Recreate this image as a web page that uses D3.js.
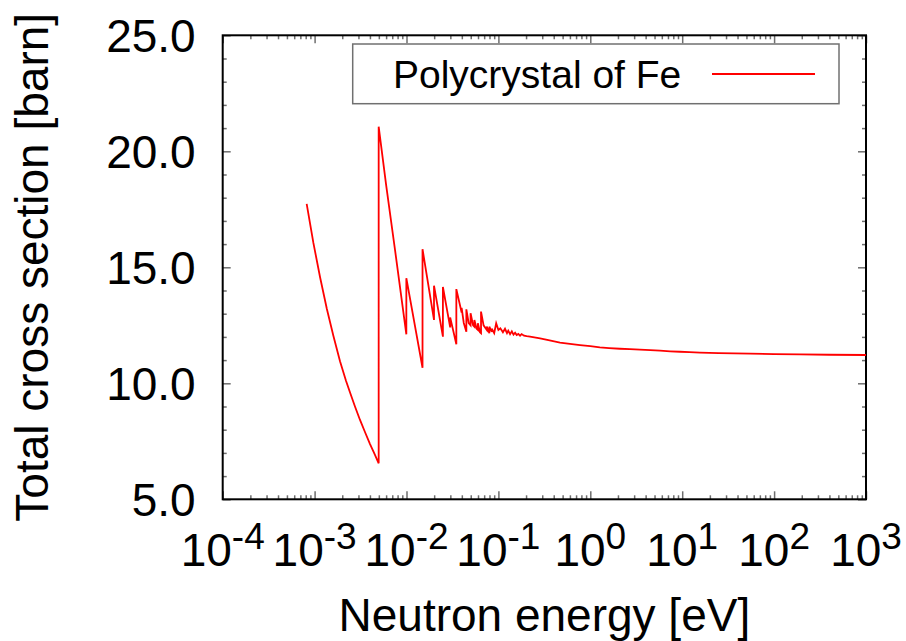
<!DOCTYPE html>
<html>
<head>
<meta charset="utf-8">
<script src="https://cdn.jsdelivr.net/npm/d3@7"></script>
<style>
  body { margin: 0; background: #fff; }
  text { font-family: "Liberation Sans", Arial, sans-serif; fill: #000; }
</style>
</head>
<body>
<div id="container"></div>
<script>
// data: neutron energy [eV] and total cross section [barn]
var energy = [
  8.2e-4, 9.7e-4, 1.15e-3, 1.36e-3, 1.6e-3, 1.89e-3, 2.2e-3, 2.43e-3, 2.75e-3, 3.12e-3,
  3.55e-3, 4.01e-3, 4.5e-3, 4.98e-3,
  4.98e-3, 6.0e-3, 7.5e-3, 9.96e-3,
  9.96e-3, 1.494e-2,
  1.494e-2, 1.992e-2,
  1.992e-2, 2.49e-2,
  2.49e-2, 2.988e-2, 2.988e-2, 3.486e-2,
  3.486e-2, 3.98e-2, 3.98e-2, 4.2e-2, 4.48e-2,
  4.48e-2, 4.75e-2, 4.98e-2, 4.98e-2, 5.3e-2, 5.48e-2, 5.48e-2, 5.8e-2, 5.98e-2, 5.98e-2,
  6.3e-2, 6.47e-2, 6.47e-2, 6.9e-2, 7.47e-2, 7.47e-2, 7.97e-2, 7.97e-2, 8.47e-2, 8.47e-2,
  9.0e-2, 9.46e-2, 0.100, 0.105, 0.112, 0.118, 0.124, 0.128, 0.134, 0.140,
  0.146, 0.152, 0.158, 0.165, 0.172, 0.179, 0.190, 0.203, 0.221,
  0.284, 0.35, 0.468, 0.6, 0.773, 1.0, 1.27, 1.6, 2.10, 2.7, 3.47, 4.5, 5.73, 7.4, 9.46,
  12, 15.6, 25, 54.7, 100, 191, 400, 1000
];
var sigma = [
  17.73, 16.05, 14.55, 13.20, 12.05, 10.95, 10.10, 9.60, 9.00, 8.42,
  7.88, 7.38, 6.95, 6.55,
  21.06, 18.55, 15.75, 12.11,
  14.53, 10.67,
  15.78, 12.73,
  14.21, 12.01,
  14.15, 12.41, 12.84, 11.68,
  14.06, 13.05, 13.25, 12.6, 12.22,
  13.19, 12.59, 12.50, 13.02, 12.50, 12.44, 12.73, 12.35, 12.30, 12.59,
  12.20, 12.16, 13.09, 12.50, 12.30, 12.45, 12.16, 12.44, 12.22, 12.35,
  12.16, 12.59, 12.30, 12.37, 12.20, 12.35, 12.16, 12.27, 12.12, 12.24,
  12.10, 12.18, 12.08, 12.13, 12.05, 12.12, 12.05, 12.03, 12.01,
  11.94, 11.86, 11.75, 11.70, 11.65, 11.60, 11.55, 11.52, 11.49, 11.47, 11.45, 11.43, 11.41, 11.38, 11.36,
  11.34, 11.32, 11.30, 11.28, 11.26, 11.25, 11.23, 11.22
];

var xDecades = [-4, -3, -2, -1, 0, 1, 2, 3];
var yMajor = [5, 10, 15, 20, 25];
var legendLabel = "Polycrystal of Fe";

var width = 906, height = 641;
var plot = {left: 222.7, right: 866, top: 35.3, bottom: 499.3};

var svg = d3.select("#container").append("svg")
  .attr("width", width)
  .attr("height", height);

var x = d3.scaleLog().domain([1e-4, 1e3]).range([plot.left, plot.right]);
var y = d3.scaleLinear().domain([5, 25]).range([plot.bottom, plot.top]);

var xMajorVals = xDecades.map(function(p) { return Math.pow(10, p); });
var xMinorVals = [];
xDecades.slice(0, -1).forEach(function(p) {
  for (var k = 2; k <= 9; k++) xMinorVals.push(k * Math.pow(10, p));
});
var yMinorVals = d3.range(5, 26, 1).filter(function(v) { return v % 5 !== 0; });

function styleAxis(g) {
  g.select(".domain").remove();
  g.selectAll(".tick line").attr("stroke", "#6e6e6e").attr("stroke-width", 1.5);
}

// major + minor ticks on all four sides, pointing inward
svg.append("g").attr("transform", "translate(0," + plot.bottom + ")")
  .call(d3.axisBottom(x).tickValues(xMajorVals).tickSize(-8).tickFormat(""))
  .call(styleAxis);
svg.append("g").attr("transform", "translate(0," + plot.bottom + ")")
  .call(d3.axisBottom(x).tickValues(xMinorVals).tickSize(-4).tickFormat(""))
  .call(styleAxis);
svg.append("g").attr("transform", "translate(0," + plot.top + ")")
  .call(d3.axisTop(x).tickValues(xMajorVals).tickSize(-8).tickFormat(""))
  .call(styleAxis);
svg.append("g").attr("transform", "translate(0," + plot.top + ")")
  .call(d3.axisTop(x).tickValues(xMinorVals).tickSize(-4).tickFormat(""))
  .call(styleAxis);

svg.append("g").attr("transform", "translate(" + plot.left + ",0)")
  .call(d3.axisLeft(y).tickValues(yMajor).tickSize(-8).tickPadding(27).tickFormat(d3.format(".1f")))
  .call(styleAxis)
  .selectAll("text")
    .style("font-size", "46px")
    .attr("dy", "0.36em")
    .style("font-family", '"Liberation Sans", Arial, sans-serif');
svg.append("g").attr("transform", "translate(" + plot.left + ",0)")
  .call(d3.axisLeft(y).tickValues(yMinorVals).tickSize(-4).tickFormat(""))
  .call(styleAxis);
svg.append("g").attr("transform", "translate(" + plot.right + ",0)")
  .call(d3.axisRight(y).tickValues(yMajor).tickSize(-8).tickFormat(""))
  .call(styleAxis);
svg.append("g").attr("transform", "translate(" + plot.right + ",0)")
  .call(d3.axisRight(y).tickValues(yMinorVals).tickSize(-4).tickFormat(""))
  .call(styleAxis);

// x tick labels as 10^n with superscripts
var xl = svg.append("g").selectAll("text")
  .data(xDecades).enter()
  .append("text")
    .attr("x", function(p) { return x(Math.pow(10, p)); })
    .attr("y", 566)
    .attr("text-anchor", "middle")
    .style("font-size", "46px");
xl.append("tspan").text("10");
xl.append("tspan")
  .attr("dy", -17)
  .style("font-size", "37px")
  .text(function(p) { return p; });

// border
svg.append("rect")
  .attr("x", plot.left).attr("y", plot.top)
  .attr("width", plot.right - plot.left).attr("height", plot.bottom - plot.top)
  .attr("fill", "none").attr("stroke", "#000").attr("stroke-width", 2);

// curve
var line = d3.line()
  .x(function(d) { return x(d[0]); })
  .y(function(d) { return y(d[1]); });

svg.append("path")
  .datum(d3.zip(energy, sigma))
  .attr("d", line)
  .attr("fill", "none")
  .attr("stroke", "#ff0000")
  .attr("stroke-width", 1.8)
  .attr("stroke-linejoin", "miter");

// legend
svg.append("rect")
  .attr("x", 352.7).attr("y", 44)
  .attr("width", 486.3).attr("height", 59.7)
  .attr("fill", "#fff").attr("stroke", "#707070").attr("stroke-width", 1.5);
svg.append("text")
  .attr("x", 393).attr("y", 88)
  .style("font-size", "39px")
  .text(legendLabel);
svg.append("line")
  .attr("x1", 712).attr("x2", 815).attr("y1", 74).attr("y2", 74)
  .attr("stroke", "#ff0000").attr("stroke-width", 1.8);

// axis titles
svg.append("text")
  .attr("x", (plot.left + plot.right) / 2).attr("y", 631)
  .attr("text-anchor", "middle")
  .style("font-size", "46px")
  .text("Neutron energy [eV]");
svg.append("text")
  .attr("transform", "translate(48," + (plot.top + plot.bottom) / 2 + ") rotate(-90)")
  .attr("text-anchor", "middle")
  .style("font-size", "46px")
  .text("Total cross section [barn]");
</script>
</body>
</html>
